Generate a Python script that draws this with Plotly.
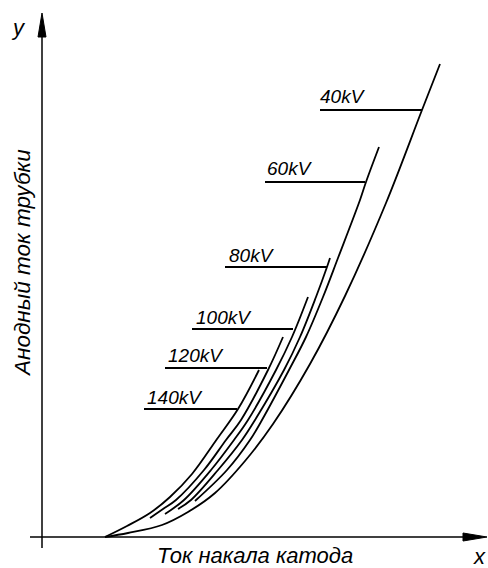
import plotly.graph_objects as go

# ---- data (arbitrary units, origin where the axes cross) ----
kv_labels = ["40kV", "60kV", "80kV", "100kV", "120kV", "140kV"]

x_40 = [63, 86, 120, 146, 173, 203, 231, 268, 303, 344, 380, 398]
y_40 = [0, 4, 12, 25, 44, 76, 113, 173, 241, 334, 427, 473]
x_60 = [153, 185, 208, 220, 247, 264, 281, 296, 318, 324, 337]
y_60 = [36, 67, 97, 117, 167, 200, 240, 279, 337, 355, 390]
x_80 = [136, 149, 176, 200, 213, 242, 258, 274, 285, 288]
y_80 = [28, 37, 67, 97, 117, 167, 200, 240, 270, 279]
x_100 = [123, 142, 169, 192, 206, 234, 250, 266]
y_100 = [23, 37, 67, 97, 117, 167, 200, 240]
x_120 = [108, 121, 134, 162, 184, 199, 226, 241]
y_120 = [19, 28, 37, 67, 97, 117, 167, 200]
x_140 = [63, 85, 108, 128, 150, 175, 196, 217]
y_140 = [0, 11, 24, 40, 63, 98, 128, 167]

# label leader lines: start x, end x, y
lead_x0 = [278, 223, 183, 150, 123, 102]
lead_x1 = [380, 323, 285, 251, 225, 195]
lead_y = [427, 355, 270, 208, 169, 128]
# label text positions
lab_x = [276, 223, 185, 152, 124, 103]
lab_y = [441, 369, 282, 220, 182, 140]

x_title = "Ток накала катода"
y_title = "Анодный ток трубки"

curves = [(x_40, y_40), (x_60, y_60), (x_80, y_80),
          (x_100, y_100), (x_120, y_120), (x_140, y_140)]

FONT = "Liberation Sans, Arial, sans-serif"
fig = go.Figure()

for (cx, cy) in curves:
    fig.add_trace(go.Scatter(x=cx, y=cy, mode="lines",
                             line=dict(color="black", width=1.8, shape="spline", smoothing=1),
                             hoverinfo="skip", showlegend=False))

for i, lab in enumerate(kv_labels):
    fig.add_trace(go.Scatter(x=[lead_x0[i], lead_x1[i]], y=[lead_y[i], lead_y[i]], mode="lines",
                             line=dict(color="black", width=2), hoverinfo="skip", showlegend=False))
    fig.add_annotation(x=lab_x[i], y=lab_y[i], text="<i>" + lab + "</i>", showarrow=False,
                       xanchor="left", yanchor="middle",
                       font=dict(family=FONT, size=19, color="black"))

# axes with arrowheads
shapes = [
    dict(type="line", x0=0, y0=-11, x1=0, y1=502, line=dict(color="black", width=1.5)),
    dict(type="line", x0=-12, y0=0, x1=424, y1=0, line=dict(color="black", width=1.5)),
    dict(type="path", path="M -4 500 L 4 500 L 0 524 Z", fillcolor="black", line=dict(color="black", width=1)),
    dict(type="path", path="M 421 4 L 421 -4 L 445 0 Z", fillcolor="black", line=dict(color="black", width=1)),
]

fig.add_annotation(x=-24, y=510, text="<i>y</i>", showarrow=False,
                   font=dict(family=FONT, size=22, color="black"))
fig.add_annotation(x=437, y=-19, text="<i>x</i>", showarrow=False,
                   font=dict(family=FONT, size=22, color="black"))
fig.add_annotation(x=213, y=-18.5, text="<i>" + x_title + "</i>", showarrow=False,
                   font=dict(family=FONT, size=22, color="black"))
fig.add_annotation(x=-20, y=274, text="<i>" + y_title + "</i>", showarrow=False, textangle=-90,
                   font=dict(family=FONT, size=22.5, color="black"))

fig.update_layout(
    width=488, height=568, autosize=False,
    margin=dict(l=0, r=0, t=0, b=0),
    paper_bgcolor="white", plot_bgcolor="white",
    shapes=shapes,
    xaxis=dict(range=[-42, 446], visible=False, fixedrange=True),
    yaxis=dict(range=[-31, 537], visible=False, fixedrange=True),
    showlegend=False,
    hovermode=False,
)

# remove the browser's default 8px body margin so the 488x568 figure fills the window
fig.write_html("out.html",
               config={"displayModeBar": False, "staticPlot": True},
               post_script="document.body.style.margin='0';document.body.style.overflow='hidden';")
